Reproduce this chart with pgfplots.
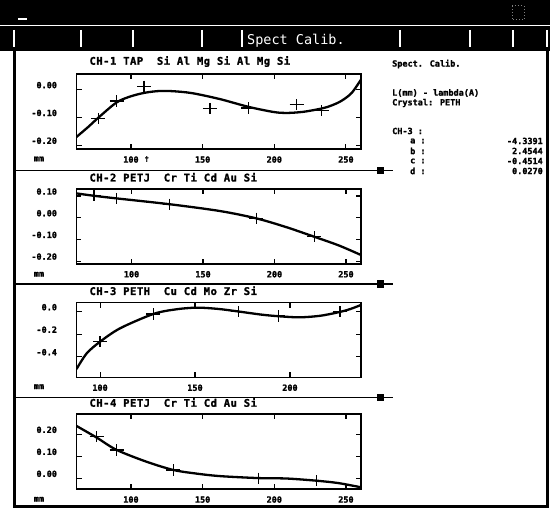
\documentclass[border=0pt]{standalone}
\usepackage{fontspec}
\setmainfont{DejaVu Sans}
\newfontfamily\mono{DejaVu Sans Mono}[BoldFeatures={FakeBold=1.6}]
\usepackage{pgfplots}
\pgfplotsset{compat=1.18}

\newcommand\lab{\mono\bfseries\fontsize{8.5}{9}\selectfont}

\pgfplotsset{panel/.style={
    scale only axis, width=284.5pt, height=75pt, anchor=south west,
    axis line style={line width=1.9pt},
    tick align=inside, major tick length=5pt,
    tick style={line width=1.1pt, black},
    xtick={100,150,200,250}, xticklabels={100,150,200,250},
    tick label style={font=\lab},
    yticklabel style={xshift=-16pt, yshift=4.5pt},
    xticklabel style={yshift=-3.5pt},
    title style={at={(0.045,1)}, anchor=south west, inner sep=0pt, yshift=1.2pt,
      font=\mono\bfseries\fontsize{10.5}{11}\selectfont\addfontfeatures{LetterSpace=5}},
  },
  curve/.style={black, line width=2.3pt, smooth, tension=0.5},
  pts/.style={black, only marks, mark=+, mark size=7pt,
    mark options={line width=1.3pt, yscale=0.8}},
}

\begin{document}
\begin{tikzpicture}
\useasboundingbox (0,0) rectangle (550pt,-510pt);
% window chrome
\fill[black] (0,0) rectangle (550pt,-25pt);
\fill[black] (0,-26.5pt) rectangle (550pt,-51pt);
\fill[white] (18pt,-18pt) rectangle (27pt,-20pt);
\draw[gray, dotted, line width=1pt] (512pt,-6pt) rectangle (524pt,-20pt);
\foreach \x in {14,81,133,202,242,400,470,513,547}
  \draw[white, line width=1.2pt] (\x pt,-30pt) -- (\x pt,-47pt);
\node[white, anchor=base west, inner sep=0pt, font=\mono\fontsize{13.5}{14}\selectfont]
  at (247pt,-45pt) {Spect Calib.};
\fill[black] (12.5pt,-50pt) rectangle (15.5pt,-508pt);
\fill[black] (546pt,-50pt) rectangle (549pt,-508pt);
\fill[black] (12.5pt,-505.5pt) rectangle (549pt,-508pt);
% panel separators
\foreach \y in {170.5,284,397.5} {
  \draw[line width=1.5pt] (15pt,-\y pt) -- (393pt,-\y pt);
  \fill (376.8pt,-\y pt+3.8pt) rectangle (384.4pt,-\y pt-3.8pt);
}
% mm labels and cursor mark
\foreach \y in {159,274.3,386.7,499.3}
  \node[font=\lab] at (39pt,-\y pt) {mm};
\node[font=\mono\bfseries\fontsize{7}{7}\selectfont] at (146.7pt,-159pt) {†};

% right column
\begin{scope}[every node/.style={font=\lab, inner sep=0pt}]
\node[anchor=west] at (392pt,-64pt) {Spect. Calib.};
\node[anchor=west] at (392pt,-93pt) {L(mm) - lambda(A)};
\node[anchor=west] at (392pt,-103pt) {Crystal: PETH};
\node[anchor=west] at (392pt,-131pt) {CH-3 :};
\node[anchor=west] at (410pt,-141pt) {a :};
\node[anchor=west] at (410pt,-151pt) {b :};
\node[anchor=west] at (410pt,-161pt) {c :};
\node[anchor=west] at (410pt,-171pt) {d :};
\node[anchor=east] at (543pt,-141pt) {-4.3391};
\node[anchor=east] at (543pt,-151pt) {2.4544};
\node[anchor=east] at (543pt,-161pt) {-0.4514};
\node[anchor=east] at (543pt,-171pt) {0.0270};
\end{scope}

% CH-1
\begin{axis}[panel, at={(76.5pt,-149.3pt)},
    xmin=62, xmax=260.5, ymin=-0.2145, ymax=0.055,
    ytick={-0.2,-0.1,0}, yticklabels={-0.20,-0.10,0.00},
    title={CH-1 TAP\ \ Si Al Mg Si Al Mg Si}]
\addplot[curve] coordinates {(62,-0.170) (70,-0.135) (77,-0.102) (90,-0.046)
  (100,-0.024) (110,-0.011) (120,-0.005) (130,-0.006) (143,-0.013) (162,-0.034)
  (182,-0.062) (199,-0.080) (208,-0.084) (220,-0.080) (233,-0.068) (240,-0.057)
  (247,-0.040) (254,-0.012) (260.5,0.036)};
\addplot[pts] coordinates {(77.2,-0.104) (90.0,-0.041) (109.1,0.012) (155.1,-0.068)
  (181.9,-0.066) (215.6,-0.054) (233.1,-0.076)};
\end{axis}

% CH-2
\begin{axis}[panel, at={(76.5pt,-264pt)},
    xmin=61.5, xmax=260.5, ymin=-0.2134, ymax=0.1323,
    ytick={-0.2,-0.1,0,0.1}, yticklabels={-0.20,-0.10,0.00,0.10},
    title={CH-2 PETJ\ \ Cr Ti Cd Au Si}]
\addplot[curve] coordinates {(61.5,0.112) (73.7,0.101) (89.5,0.089) (126.7,0.062)
  (161.6,0.031) (187.2,-0.003) (208,-0.043) (227.9,-0.088) (245,-0.128) (260.5,-0.172)};
\addplot[pts] coordinates {(73.7,0.101) (89.5,0.089) (126.7,0.062) (187.2,-0.003)
  (227.9,-0.088)};
\end{axis}

% CH-3
\begin{axis}[panel, at={(76.5pt,-377.5pt)},
    xmin=87.6, xmax=237.4, ymin=-0.585, ymax=0.0818,
    xtick={100,150,200}, xticklabels={100,150,200},
    ytick={-0.4,-0.2,0}, yticklabels={-0.4,-0.2,0.0},
    title={CH-3 PETH\ \ Cu Cd Mo Zr Si}]
\addplot[curve] coordinates {(87.6,-0.510) (93,-0.370) (100,-0.267) (110.5,-0.148)
  (128.1,-0.020) (140,0.021) (150.9,0.036) (162,0.025) (172.8,0.002) (185,-0.026)
  (193.8,-0.040) (205,-0.050) (216,-0.036) (226.3,-0.002) (232,0.025) (237.4,0.060)};
\addplot[pts] coordinates {(100,-0.267) (128.1,-0.020) (172.8,0.000) (193.8,-0.038)
  (226.3,0.000)};
\end{axis}

% CH-4
\begin{axis}[panel, at={(76.5pt,-489.3pt)},
    xmin=62, xmax=260.5, ymin=-0.05, ymax=0.291,
    ytick={0,0.1,0.2}, yticklabels={0.00,0.10,0.20},
    title={CH-4 PETJ\ \ Cr Ti Cd Au Si}]
\addplot[curve] coordinates {(62,0.238) (76.1,0.185) (90,0.129) (111,0.075)
  (129.5,0.038) (145,0.022) (162,0.010) (188.8,0.001) (208.6,-0.001) (229.6,-0.011)
  (245,-0.022) (260.5,-0.041)};
\addplot[pts] coordinates {(76.1,0.189) (90,0.129) (129.5,0.038) (188.8,0.000)
  (229.6,-0.011)};
\end{axis}
\end{tikzpicture}
\end{document}
